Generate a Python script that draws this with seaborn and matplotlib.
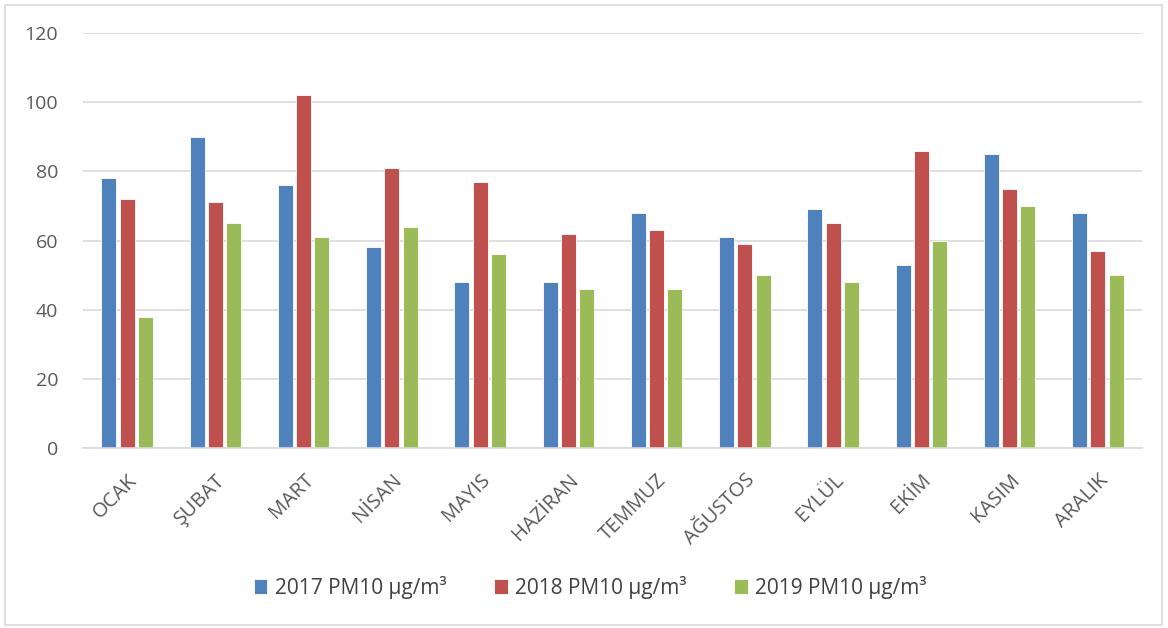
import matplotlib
matplotlib.use("Agg")
import matplotlib.pyplot as plt
import seaborn as sns
import pandas as pd

months = ["OCAK", "ŞUBAT", "MART", "NİSAN", "MAYIS", "HAZİRAN",
          "TEMMUZ", "AĞUSTOS", "EYLÜL", "EKİM", "KASIM", "ARALIK"]
series_names = ["2017 PM10 µg/m³", "2018 PM10 µg/m³", "2019 PM10 µg/m³"]
pm10_2017 = [78, 90, 76, 58, 48, 48, 68, 61, 69, 53, 85, 68]
pm10_2018 = [72, 71, 102, 81, 77, 62, 63, 59, 65, 86, 75, 57]
pm10_2019 = [38, 65, 61, 64, 56, 46, 46, 50, 48, 60, 70, 50]
y_ticks = [0, 20, 40, 60, 80, 100, 120]
colors = ["#4F81BD", "#C0504D", "#9BBB59"]

df = pd.DataFrame({
    "Ay": months * 3,
    "Seri": [s for s in series_names for _ in months],
    "Değer": pm10_2017 + pm10_2018 + pm10_2019,
})

sns.set_theme(style="white")
plt.rcParams["font.family"] = ["Open Sans", "DejaVu Sans"]

fig = plt.figure(figsize=(11.68, 6.28), dpi=100)
ax = fig.add_axes([83 / 1168, 1 - 448 / 628, (1142 - 83) / 1168, (448 - 33) / 628])

sns.barplot(data=df, x="Ay", y="Değer", hue="Seri", order=months,
            hue_order=series_names, palette=colors, width=0.62, gap=0.17,
            edgecolor="white", linewidth=0.6, saturation=1, ax=ax, legend=True)

ax.set_ylim(0, 120)
ax.set_xlim(-0.5, len(months) - 0.5)
ax.set_yticks(y_ticks)
ax.set_yticklabels([str(v) for v in y_ticks], fontsize=14, color="#595959")
ax.yaxis.grid(True, color="#D9D9D9", linewidth=1.2)
ax.set_axisbelow(True)
ax.set_xlabel("")
ax.set_ylabel("")
for side in ["left", "right", "top"]:
    ax.spines[side].set_visible(False)
ax.spines["bottom"].set_color("#D9D9D9")
ax.spines["bottom"].set_linewidth(1.2)
ax.tick_params(axis="y", length=0, pad=18)
ax.set_xticks(range(len(months)))
ax.set_xticklabels(months, rotation=45, ha="right", rotation_mode="anchor",
                   fontsize=14.5, color="#595959")
ax.tick_params(axis="x", length=0, pad=16)

handles, labels = ax.get_legend_handles_labels()
ax.legend(handles, labels, loc="center", bbox_to_anchor=(0.479, -0.335),
          ncol=3, frameon=False, fontsize=15, handlelength=0.65,
          handleheight=0.75, columnspacing=2.3, handletextpad=0.35,
          labelcolor="#404040")

# Chart frame
fig.patches.append(plt.Rectangle((5 / 1168, 3 / 628), 1157 / 1168, 620 / 628,
                                 transform=fig.transFigure, fill=False,
                                 edgecolor="#D9D9D9", linewidth=1.2))

fig.savefig("out.png", dpi=100)
